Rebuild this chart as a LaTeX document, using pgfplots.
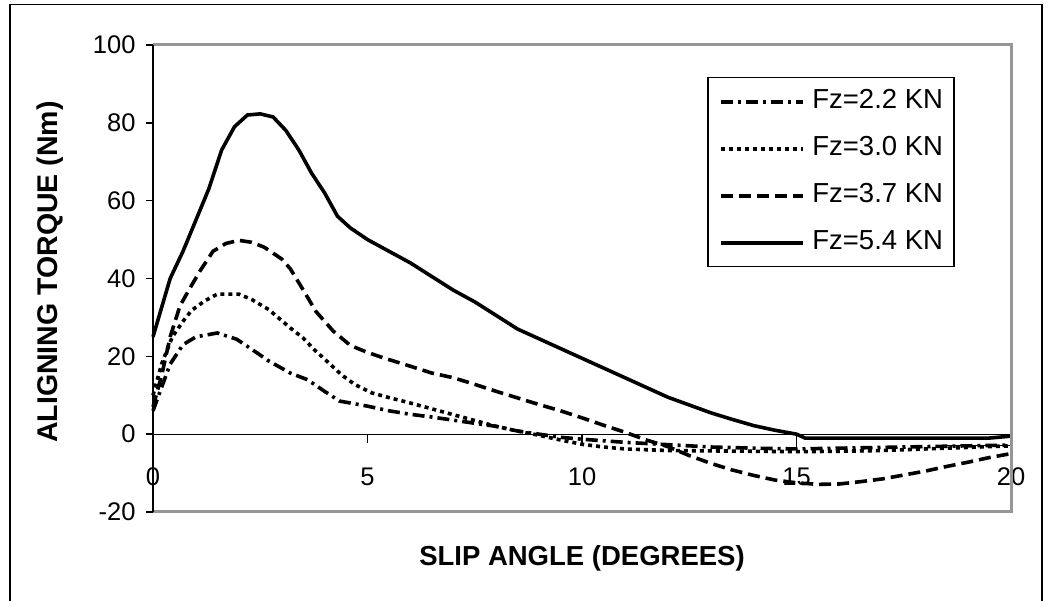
\documentclass[border=0pt]{standalone}
\usepackage{fontspec}
\setmainfont{Liberation Sans}
\usepackage{pgfplots}
\pgfplotsset{compat=1.18}
\definecolor{framegray}{RGB}{150,150,150}
\begin{document}
\begin{tikzpicture}[x=1pt,y=1pt]
\useasboundingbox (0,0) rectangle (1052,601);
\draw[line width=1.5pt] (10,-5) -- (10,596.5) -- (1042,596.5) -- (1042,-5);
\begin{axis}[
  at={(153pt,89pt)}, anchor=south west,
  scale only axis, width=858pt, height=467pt,
  xmin=0, xmax=20, ymin=-20, ymax=100,
  axis line style={draw=none},
  xtick={0,5,10,15,20}, ytick={-20,0,20,40,60,80,100},
  xtick pos=bottom, ytick pos=left,
  tick align=outside, major tick length=7pt,
  x tick style={draw=none},
  y tick style={black, line width=1.5pt},
  xticklabel style={font=\fontsize{25.5}{25.5}\selectfont, yshift=55pt},
  yticklabel style={font=\fontsize{25.5}{25.5}\selectfont, xshift=-7pt},
  /pgf/number format/assume math mode=true,
  clip=false,
  legend cell align=left,
  legend image code/.code={\draw[#1] (0pt,0pt) -- (82pt,0pt);},
  legend style={at={(0.6457,0.9315)}, anchor=north west, draw=black, line width=1.5pt,
    font=\fontsize{27.5}{27.5}\selectfont, row sep=23pt, column sep=8pt,
    inner xsep=11pt, inner ysep=12pt,
    nodes={inner sep=0pt, text height=19pt, text depth=5pt}},
]
\draw[black, line width=1.2pt] (axis cs:0,0) -- (axis cs:20,0);
\pgfplotsinvokeforeach{5,10,15}{\draw[black, line width=1.2pt] (axis cs:#1,0) -- ++(0pt,-9pt);}

\addplot[black, line width=3.6pt, dash pattern=on 12pt off 5pt on 3pt off 5pt] coordinates {
(0,6)(0.1,9)(0.4,18)(0.7,23)(1.0,25)(1.5,26)(1.95,24.4)(2.25,22.2)(2.7,18.8)(3.2,15.7)
(3.6,14)(4.0,11)(4.35,8.5)(5.0,7.2)(5.5,6)(6.0,5.1)(6.5,4.4)(7.0,3.6)(7.5,2.8)(8.0,2)
(8.5,0.8)(9.0,0)(9.5,-0.8)(10,-1.3)(10.5,-1.7)(11,-2.1)(12,-2.7)(13,-3.3)(14,-3.6)
(15,-3.8)(16,-3.6)(17,-3.4)(18,-3.2)(19,-3)(20,-2.8)};
\addlegendentry{Fz=2.2 KN}

\addplot[black, line width=3.6pt, dash pattern=on 4pt off 4pt] coordinates {
(0,10)(0.2,18)(0.45,25)(0.7,29)(0.9,31.8)(1.2,34.2)(1.5,36)(2.0,36)(2.3,34.6)(2.7,32)
(3.2,27.3)(3.5,24.7)(3.75,21.8)(4.0,19.3)(4.4,15.2)(4.7,12.8)(5.1,10.6)(5.5,9.4)(6.0,8)
(6.5,6.5)(7.0,5)(7.5,3.5)(8.0,2)(8.5,0.8)(9.0,-0.3)(9.5,-1.5)(10.0,-2.6)(10.5,-3.3)
(11,-3.8)(12,-4.2)(13,-4.3)(14,-4.4)(15,-4.5)(16,-4.4)(17,-4.2)(18,-3.8)(19,-3.4)(20,-3)};
\addlegendentry{Fz=3.0 KN}

\addplot[black, line width=3.6pt, dash pattern=on 12pt off 6pt] coordinates {
(0,7)(0.2,15)(0.4,25)(0.63,33)(0.86,37.5)(1.1,42)(1.4,47)(1.7,49)(2.0,49.8)(2.3,49.3)
(2.6,48)(3.0,45)(3.2,42.5)(3.45,38)(3.8,31.5)(4.2,26.5)(4.6,22.8)(5.0,21)(5.4,19.5)
(5.9,17.8)(6.5,15.7)(7.0,14.5)(7.5,12.8)(8.0,11)(8.5,9.3)(9.0,7.6)(9.5,6)(10,4.2)
(10.5,2.3)(11,0.5)(11.5,-1.5)(12,-3.2)(12.5,-5.5)(13,-7.5)(13.5,-9.2)(14,-10.6)
(14.5,-11.8)(15,-12.5)(15.5,-12.9)(16,-12.8)(16.5,-12.2)(17,-11.5)(17.5,-10.5)(18,-9.5)
(18.5,-8.3)(19,-7.2)(19.5,-6)(20,-5)};
\addlegendentry{Fz=3.7 KN}

\addplot[black, line width=3.6pt] coordinates {
(0,25)(0.4,40)(0.7,47)(1.0,55)(1.3,63)(1.6,73)(1.9,79)(2.2,82)(2.5,82.3)(2.8,81.5)
(3.1,78)(3.4,73)(3.7,67)(4.0,62)(4.3,56)(4.6,53)(5.0,50)(5.5,47)(6.0,44)(6.5,40.5)
(7.0,37)(7.5,34)(8.0,30.5)(8.5,27)(9.0,24.5)(9.5,22)(10.0,19.5)(10.5,17)(11,14.5)
(11.5,12)(12,9.5)(12.5,7.5)(13,5.5)(13.5,3.8)(14,2.2)(14.5,1)(15,0)(15.2,-1)(19.5,-1)(20,-0.5)};
\addlegendentry{Fz=5.4 KN}

\addplot[black, line width=1pt, forget plot] coordinates {(15,0)(15,-4)};
\addplot[black, line width=1pt, forget plot] coordinates {(18.5,-2.8)(20,-2.8)(20,0)};

\draw[framegray, line width=3pt] (rel axis cs:0,1) -- (rel axis cs:1,1) -- (rel axis cs:1,0) -- (rel axis cs:0,0);
\draw[black, line width=2.5pt] (rel axis cs:0,0) -- (rel axis cs:0,1);
\end{axis}
\node[font=\bfseries\fontsize{27.5}{27.5}\selectfont] at (582,43) {SLIP ANGLE (DEGREES)};
\node[rotate=90, font=\bfseries\fontsize{28.5}{28.5}\selectfont] at (50,329) {ALIGNING TORQUE (Nm)};
\end{tikzpicture}
\end{document}
